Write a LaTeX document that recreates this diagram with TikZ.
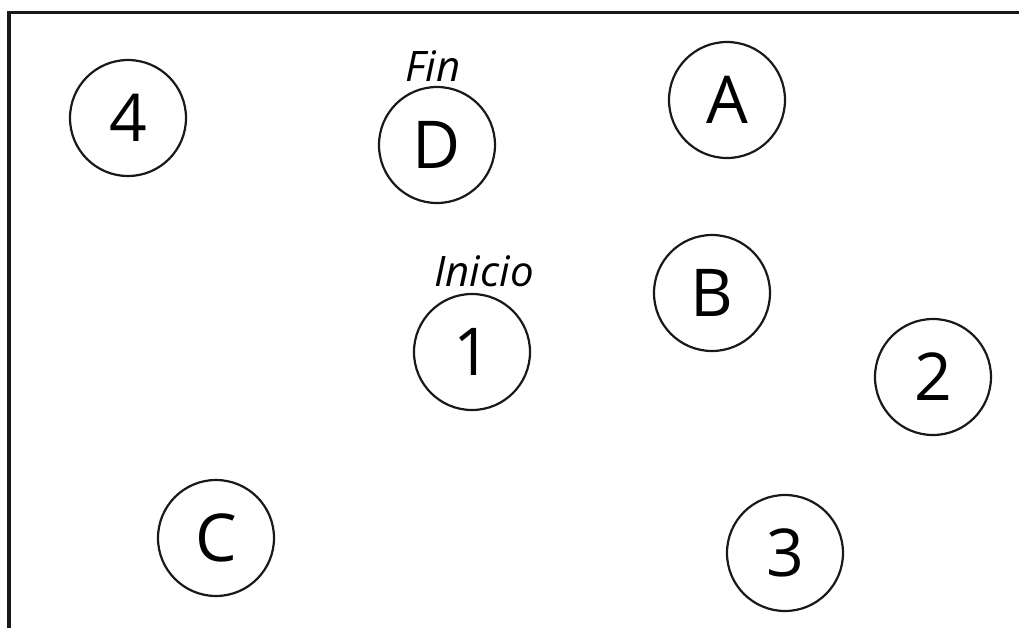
\documentclass[tikz,border=0pt]{standalone}
\usepackage{fontspec}
\setmainfont{Open Sans}
\usepackage{tikz}
\usetikzlibrary{positioning}
\tikzset{
  spot/.style={circle, draw=black!90, line width=1.1pt, minimum size=58pt,
               inner sep=0pt, font=\fontsize{33}{38}\selectfont},
  lbl/.style={font=\fontsize{21}{25}\selectfont\itshape, inner sep=1pt},
  frame/.style={line width=1.6pt, black!90},
}
\begin{document}
\begin{tikzpicture}[x=0.5pt, y=-0.5pt]
  \useasboundingbox (0,0) rectangle (1019,628);
  %% border (top and left only)
  \coordinate (tl) at (9,12.5);
  \coordinate (tr) at (1019,12.5);
  \coordinate (bl) at (9,628);
  \draw[frame] (tr) -- (tl) -- (bl);
  %% points
  \node[spot] (p4) at (128,118) {4};
  \node[spot] (pD) at (437,145) {D};
  \node[spot] (pA) at (727,100) {A};
  \node[spot] (pB) at (712,293) {B};
  \node[spot] (p1) at (472,352) {1};
  \node[spot] (p2) at (933,377) {2};
  \node[spot] (pC) at (216,538) {C};
  \node[spot] (p3) at (785,553) {3};
  %% start / end
  \node[lbl, above=1pt of pD, xshift=-2pt] (fin) {Fin};
  \node[lbl, above=2pt of p1, xshift=6pt] (inicio) {Inicio};
\end{tikzpicture}
\end{document}
